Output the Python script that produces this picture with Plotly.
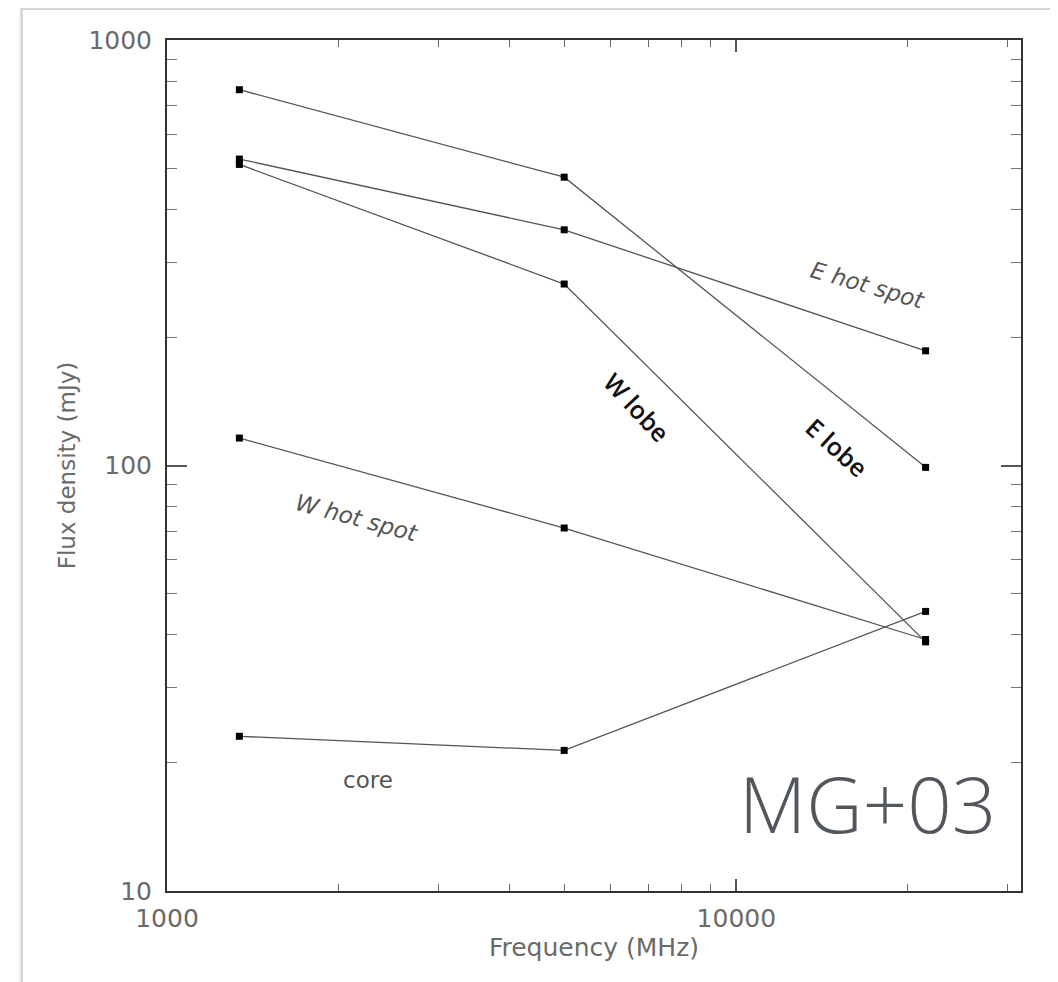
import plotly.graph_objects as go

# Data
freq_mhz = [1340, 4985, 21500]
e_lobe = [764, 476, 99]
e_hot_spot = [525, 358, 186]
w_lobe = [510, 267, 38.5]
w_hot_spot = [116, 71.3, 39]
core = [23.1, 21.4, 45.4]

series = [e_lobe, e_hot_spot, w_lobe, w_hot_spot, core]

x_major = [1000, 10000]
y_major = [10, 100, 1000]
x_minor = [2000, 3000, 4000, 5000, 6000, 7000, 8000, 9000, 20000, 30000]
y_minor = [v * m for m in (10, 100) for v in range(2, 10)]

fig = go.Figure()
for s in series:
    fig.add_trace(go.Scatter(
        x=freq_mhz, y=s, mode="lines+markers",
        line=dict(color="#555555", width=1.3),
        marker=dict(symbol="square", size=7, color="black"),
        showlegend=False, hoverinfo="skip"))

OFF = 8  # page offset of the figure
W, H = 1050, 974
L, T = 167 - OFF, 40 - OFF
pw, ph = 854, 851
R = W - L - pw
B = H - T - ph

def px(xp):
    return (xp - OFF - L) / pw

def py(yp):
    return (H - B - (yp - OFF)) / ph

tickfont = dict(family="DejaVu Sans", size=25, color="#6a6a6a")
axis_common = dict(
    type="log", ticks="inside", mirror="ticks", showline=True,
    linecolor="#333333", linewidth=2, tickcolor="#555555",
    showgrid=False, zeroline=False, tickfont=tickfont,
)

fig.update_xaxes(
    range=[3, 4.5], tickvals=x_major, ticktext=["1000", "10000"], ticklen=12, tickwidth=1.5,
    ticklabelstandoff=4,
    minor=dict(tickvals=x_minor, ticklen=7, tickwidth=1.2, tickcolor="#666666", ticks="inside", showgrid=False),
    title=dict(text="Frequency (MHz)", font=dict(family="DejaVu Sans", size=25, color="#6a6a6a"), standoff=6),
    **axis_common)
fig.update_yaxes(
    range=[1, 3], tickvals=y_major, ticktext=["10", "100", "1000"], ticklen=20, tickwidth=1.5,
    ticklabelstandoff=8,
    minor=dict(tickvals=y_minor, ticklen=10, tickwidth=1.2, tickcolor="#777777", ticks="inside", showgrid=False),
    title=dict(text="Flux density (mJy)", font=dict(family="DejaVu Sans", size=23, color="#6a6a6a"), standoff=6),
    **axis_common)

lab_font = dict(family="DejaVu Sans", size=23, color="#555555")
lobe_font = dict(family="Open Sans", size=25, color="#111111", weight=600)
annots = [
    ("<i>E hot spot</i>", 867, 285, 16, lab_font),
    ("W lobe", 637, 407, 47, lobe_font),
    ("E lobe", 837, 447, 42, lobe_font),
    ("<i>W hot spot</i>", 357, 518, 15, lab_font),
    ("core", 368, 780, 0, lab_font),
]
for text, xx, yy, ang, f in annots:
    fig.add_annotation(text=text, x=px(xx), y=py(yy), xref="paper", yref="paper",
                       showarrow=False, textangle=ang, font=f, xanchor="center", yanchor="middle")

fig.add_annotation(text="MG+03", x=px(998), y=py(858), xref="paper", yref="paper",
                   showarrow=False, xanchor="right", yanchor="bottom",
                   font=dict(family="Open Sans", size=78, color="#52575d", weight=300))

# card with shadow
shapes = []
for i, c in enumerate(["#f3f3f3", "#e6e6e6", "#d6d6d6"]):
    d = 3 - i
    shapes.append(dict(type="rect", xref="paper", yref="paper", layer="below",
                       x0=px(22 - d), x1=px(1052 + d), y0=py(1000), y1=py(9 - d),
                       fillcolor=c, line=dict(width=0)))
shapes.append(dict(type="rect", xref="paper", yref="paper", layer="below",
                   x0=px(23), x1=px(1051), y0=py(1000), y1=py(10),
                   fillcolor="white", line=dict(width=0)))
fig.update_layout(shapes=shapes)

fig.update_layout(
    width=W, height=H, margin=dict(l=L, r=R, t=T, b=B),
    paper_bgcolor="white", plot_bgcolor="rgba(0,0,0,0)",
)
fig.write_html("out.html")
